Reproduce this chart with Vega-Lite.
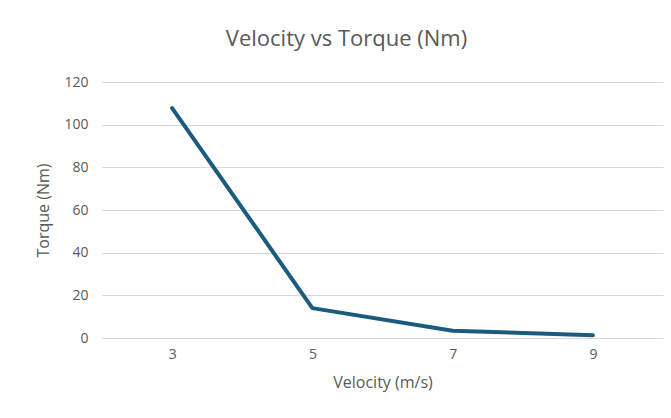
{
  "$schema": "https://vega.github.io/schema/vega-lite/v6.json",
  "autosize": "none",
  "width": 561,
  "height": 256,
  "padding": {"left": 102, "top": 82, "right": 8, "bottom": 80},
  "background": "white",
  "config": {"view": {"stroke": null}, "font": "Open Sans"},
  "title": {
    "text": "Velocity vs Torque (Nm)",
    "fontSize": 22,
    "fontWeight": "normal",
    "color": "#595959",
    "font": "Open Sans",
    "anchor": "middle",
    "dx": -36,
    "offset": 24
  },
  "data": {
    "values": [
      {"velocity": "3", "torque": 107.8},
      {"velocity": "5", "torque": 14.0},
      {"velocity": "7", "torque": 3.4},
      {"velocity": "9", "torque": 1.3}
    ]
  },
  "mark": {"type": "line", "color": "#1b5c7e", "strokeWidth": 4, "strokeCap": "round", "strokeJoin": "round"},
  "encoding": {
    "x": {
      "field": "velocity",
      "type": "ordinal",
      "sort": null,
      "scale": {"padding": 0.5},
      "axis": {
        "title": "Velocity (m/s)",
        "labelAngle": 0,
        "ticks": false,
        "domain": false,
        "grid": false,
        "labelFont": "Open Sans",
        "labelFontSize": 14,
        "labelColor": "#595959",
        "labelPadding": 9,
        "titleFont": "Open Sans",
        "titleFontSize": 16,
        "titleFontWeight": "normal",
        "titleColor": "#595959",
        "titlePadding": 13
      }
    },
    "y": {
      "field": "torque",
      "type": "quantitative",
      "scale": {"domain": [0, 120]},
      "axis": {
        "title": "Torque (Nm)",
        "values": [0, 20, 40, 60, 80, 100, 120],
        "ticks": false,
        "domain": false,
        "grid": true,
        "gridColor": "#d9d9d9",
        "gridWidth": 1.2,
        "labelFont": "Open Sans",
        "labelFontSize": 14,
        "labelColor": "#595959",
        "labelPadding": 14,
        "titleFont": "Open Sans",
        "titleFontSize": 16,
        "titleFontWeight": "normal",
        "titleColor": "#595959",
        "titlePadding": 12
      }
    }
  }
}
